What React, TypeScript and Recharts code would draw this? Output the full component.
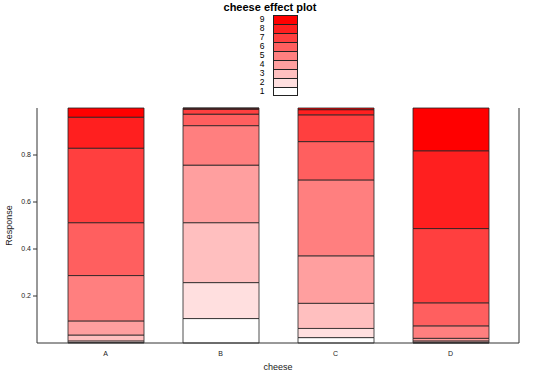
import React from 'react';
import { Bar, BarChart, XAxis, YAxis } from 'recharts';

const cheeses = ['A', 'B', 'C', 'D'];
const levels = ['1', '2', '3', '4', '5', '6', '7', '8', '9'];

// probability of each response level, per cheese (A, B, C, D)
const level1 = [0.002, 0.104, 0.023, 0.001];
const level2 = [0.007, 0.153, 0.039, 0.002];
const level3 = [0.025, 0.255, 0.107, 0.006];
const level4 = [0.060, 0.245, 0.202, 0.011];
const level5 = [0.193, 0.168, 0.323, 0.053];
const level6 = [0.225, 0.049, 0.163, 0.098];
const level7 = [0.317, 0.020, 0.114, 0.316];
const level8 = [0.132, 0.005, 0.022, 0.331];
const level9 = [0.039, 0.001, 0.007, 0.182];

const yTicks = [0.2, 0.4, 0.6, 0.8];

const levelSeries = [level1, level2, level3, level4, level5, level6, level7, level8, level9];
const colors = ['#FFFFFF', '#FFDFDF', '#FFBFBF', '#FF9F9F', '#FF7F7F', '#FF5F5F', '#FF3F3F', '#FF1F1F', '#FF0000'];

const data = cheeses.map((cheese, i) => {
    const row: Record<string, string | number> = { cheese };
    levels.forEach((lv, j) => { row[lv] = levelSeries[j][i]; });
    return row;
});

const font = '"Liberation Sans", Arial, sans-serif';
const axisColor = '#333';

const App: React.FC = () => {
    return (
        <div style={{ position: 'absolute', left: 0, top: 0, width: 540, height: 376, background: '#fff', fontFamily: font }}>
            <div style={{ position: 'absolute', left: 0, top: 1, width: 540, textAlign: 'center', fontWeight: 'bold', fontSize: 11 }}>
                cheese effect plot
            </div>
            {/* color key, top to bottom = 9 .. 1 */}
            <div style={{ position: 'absolute', left: 256, top: 15 }}>
                {levels.slice().reverse().map((lv, k) => (
                    <div key={lv} style={{ display: 'flex', alignItems: 'center', height: 9 }}>
                        <span style={{ width: 12, fontSize: 8.5, lineHeight: '9px', textAlign: 'center', marginRight: 5 }}>{lv}</span>
                        <span style={{
                            width: 25, height: 9, background: colors[Number(lv) - 1],
                            borderLeft: '1px solid #222', borderRight: '1px solid #222', borderTop: '1px solid #222',
                            borderBottom: k === levels.length - 1 ? '1px solid #222' : 'none',
                            boxSizing: 'border-box',
                        }} />
                    </div>
                ))}
            </div>
            <div style={{ position: 'absolute', left: 0, top: 0 }}>
                <BarChart width={540} height={376} data={data} margin={{ top: 108, right: 0, bottom: 0, left: 0 }}>
                    <XAxis
                        dataKey="cheese"
                        height={33}
                        padding={{ left: 11, right: 11 }}
                        tickLine={false}
                        axisLine={{ stroke: axisColor }}
                        tick={{ fontSize: 7, fill: '#222', fontFamily: font }}
                        tickMargin={2}
                        label={{ value: 'cheese', position: 'insideBottom', offset: 6, fontSize: 9, fill: '#222', fontFamily: font }}
                    />
                    <XAxis xAxisId="top" dataKey="cheese" orientation="top" height={0} tick={false} tickLine={false} axisLine={{ stroke: axisColor }} />
                    <YAxis
                        domain={[0, 1]}
                        ticks={yTicks}
                        width={37}
                        tickSize={4}
                        tickLine={{ stroke: axisColor }}
                        axisLine={{ stroke: axisColor }}
                        tick={{ fontSize: 7, fill: '#222', fontFamily: font }}
                        tickFormatter={(v: number) => String(v)}
                        label={{ value: 'Response', angle: -90, position: 'insideLeft', offset: 9, style: { textAnchor: 'middle' }, fontSize: 9, fill: '#222', fontFamily: font }}
                    />
                    <YAxis
                        yAxisId="right"
                        orientation="right"
                        domain={[0, 1]}
                        ticks={yTicks}
                        width={21}
                        tickSize={4}
                        tick={false}
                        tickLine={{ stroke: axisColor }}
                        axisLine={{ stroke: axisColor }}
                    />
                    {levels.map((lv, j) => (
                        <Bar
                            key={lv}
                            dataKey={lv}
                            stackId="p"
                            barSize={76}
                            fill={colors[j]}
                            stroke="#222"
                            strokeWidth={0.8}
                            isAnimationActive={false}
                        />
                    ))}
                </BarChart>
            </div>
        </div>
    );
};

export default App;
